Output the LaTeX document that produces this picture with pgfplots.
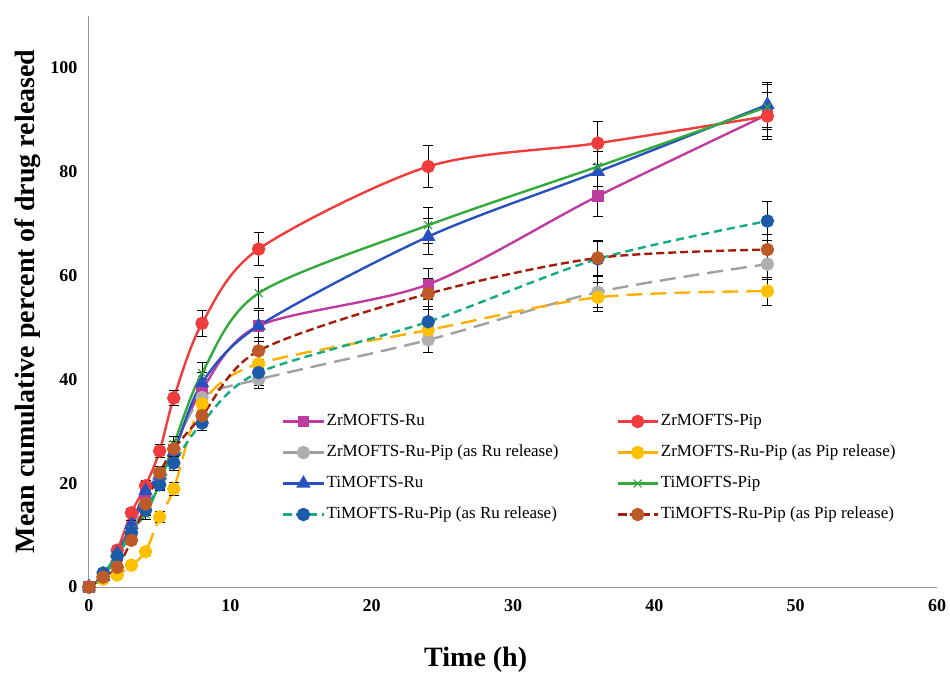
\documentclass[border=0pt]{standalone}
\usepackage{pgfplots}
\pgfplotsset{compat=1.18}
\usepackage{fontspec}
\setmainfont{Liberation Serif}
\definecolor{cZrRu}{RGB}{190,60,160}
\definecolor{cZrPip}{RGB}{240,60,60}
\definecolor{cGray}{RGB}{160,160,160}
\definecolor{cGrayM}{RGB}{175,175,175}
\definecolor{cYel}{RGB}{255,176,0}
\definecolor{cYelM}{RGB}{255,192,0}
\definecolor{cTiRu}{RGB}{40,80,190}
\definecolor{cTiPip}{RGB}{50,170,60}
\definecolor{cTeal}{RGB}{20,170,130}
\definecolor{cBlueM}{RGB}{30,90,170}
\definecolor{cDRed}{RGB}{160,30,10}
\definecolor{cBrownM}{RGB}{190,90,40}
\definecolor{cAxis}{RGB}{150,150,150}
\pgfplotstableread{
t v e
0 0 0
1 2 0.3
2 6.5 0.5
3 11.5 0.8
4 17.5 1
5 21.5 1.2
6 26.5 1.5
8 38 2
12 50.3 3
24 58.3 3
36 75.3 4
48 91 4.3
}\ZrRu
\pgfplotstableread{
t v e
0 0 0
1 2 0.3
2 7.1 0.5
3 14.3 0.8
4 19.5 1
5 26.2 1.2
6 36.4 1.5
8 50.8 2.5
12 65.1 3.2
24 81 4
36 85.5 4.2
48 90.7 4.5
}\ZrPip
\pgfplotstableread{
t v e
0 0 0
1 2 0.3
2 6 0.5
3 11 0.8
4 16 1
5 21 1.2
6 26.5 1.5
8 36.5 2
12 40 1.8
24 47.6 2.5
36 56.8 3
48 62.2 3
}\ZrRuPipRu
\pgfplotstableread{
t v e
0 0 0
1 1.5 0.3
2 2.3 0.4
3 4.2 0.5
4 6.8 0.7
5 13.5 1
6 18.9 1.2
8 35.3 2
12 43 2
24 49.5 2.5
36 55.8 2.8
48 57 2.7
}\ZrRuPipPip
\pgfplotstableread{
t v e
0 0 0
1 2 0.3
2 6.5 0.5
3 12 0.8
4 18.5 1
5 21.5 1.2
6 26 1.5
8 39.3 2
12 50.3 3
24 67.5 3.5
36 80 3.8
48 92.9 4.3
}\TiRu
\pgfplotstableread{
t v e
0 0 0
1 2 0.3
2 6 0.5
3 11 0.8
4 14 1
5 20 1.2
6 27.5 1.5
8 41.2 2
12 56.6 3
24 69.7 3.5
36 81 3.8
48 92.5 4.3
}\TiPip
\pgfplotstableread{
t v e
0 0 0
1 2.7 0.3
2 6 0.5
3 10.4 0.8
4 14.8 1
5 19.7 1.2
6 23.9 1.5
8 31.6 1.5
12 41.3 2.5
24 51.1 3
36 63.2 3.3
48 70.5 3.7
}\TiRuPipRu
\pgfplotstableread{
t v e
0 0 0
1 1.9 0.3
2 3.8 0.5
3 9 0.8
4 16 1
5 22 1.2
6 26.6 1.5
8 33 2
12 45.5 2.5
24 56.5 3
36 63.4 3.3
48 65 3
}\TiRuPipPip
\begin{document}
\begin{tikzpicture}
\pgfplotsset{
  eb/.style={error bars/.cd, y dir=both, y explicit,
    error bar style={black, line width=1pt, solid},
    error mark options={black, mark size=5pt, line width=1pt, rotate=90, solid}},
  ser/.style={line width=2.4pt, smooth, tension=0.5, mark size=5.5pt},
}
\begin{axis}[
  name=ax,
  scale only axis, width=848pt, height=571pt,
  xmin=0, xmax=60, ymin=0, ymax=110,
  xtick={0,10,...,60}, ytick={0,20,...,100},
  axis x line=bottom, axis y line=left,
  axis line style={-, draw=cAxis, line width=1pt},
  major tick length=0pt,
  /pgf/number format/assume math mode=true,
  tick label style={font=\fontsize{18}{21}\selectfont\bfseries},
  xticklabel style={yshift=-9pt},
  yticklabel style={xshift=-8pt},
  xlabel={Time (h)},
  xlabel style={font=\fontsize{28}{32}\selectfont\bfseries, at={(axis description cs:0.456,0)}, anchor=center, yshift=-73pt},
  ylabel={Mean cumulative percent of drug released},
  ylabel style={font=\fontsize{28}{32}\selectfont\bfseries, at={(axis description cs:0,0.5)}, anchor=center, yshift=61pt},
  legend columns=2,
  legend cell align=left,
  legend style={at={(axis cs:13.66,34.9)}, anchor=north west, draw=none, fill=none,
    font=\fontsize{17}{20}\selectfont, inner sep=0pt,
    nodes={text height=13pt, text depth=5pt, inner ysep=6.5pt, inner xsep=2pt},
    /tikz/every even column/.append style={column sep=56pt}},
  legend image code/.code={\draw[mark repeat=2,mark phase=2,#1] plot coordinates {(0pt,0pt) (20pt,0pt) (40pt,0pt)};},
]
\addplot[ser, color=cZrRu, mark=square*, mark size=4.5pt, mark options={solid, fill=cZrRu}, eb] table[x=t,y=v,y error=e] {\ZrRu};
\addlegendentry{ZrMOFTS-Ru}
\addplot[ser, color=cZrPip, mark=*, mark options={solid, fill=cZrPip}, eb] table[x=t,y=v,y error=e] {\ZrPip};
\addlegendentry{ZrMOFTS-Pip}
\addplot[ser, color=cGray, dash pattern=on 16pt off 8pt, mark=*, mark options={solid, draw=cGrayM, fill=cGrayM}, eb] table[x=t,y=v,y error=e] {\ZrRuPipRu};
\addlegendentry{ZrMOFTS-Ru-Pip (as Ru release)}
\addplot[ser, color=cYel, dash pattern=on 16pt off 8pt, mark=*, mark options={solid, draw=cYelM, fill=cYelM}, eb] table[x=t,y=v,y error=e] {\ZrRuPipPip};
\addlegendentry{ZrMOFTS-Ru-Pip (as Pip release)}
\addplot[ser, color=cTiRu, mark=triangle*, mark size=6pt, mark options={solid, fill=cTiRu}, eb] table[x=t,y=v,y error=e] {\TiRu};
\addlegendentry{TiMOFTS-Ru}
\addplot[ser, color=cTiPip, mark=x, mark size=5.5pt, mark options={solid, line width=1.2pt}, eb] table[x=t,y=v,y error=e] {\TiPip};
\addlegendentry{TiMOFTS-Pip}
\addplot[ser, color=cTeal, dash pattern=on 8pt off 5pt, mark=*, mark options={solid, draw=cBlueM, fill=cBlueM}, eb] table[x=t,y=v,y error=e] {\TiRuPipRu};
\addlegendentry{TiMOFTS-Ru-Pip (as Ru release)}
\addplot[ser, color=cDRed, dash pattern=on 8pt off 4pt, mark=*, mark options={solid, draw=cBrownM, fill=cBrownM}, eb] table[x=t,y=v,y error=e] {\TiRuPipPip};
\addlegendentry{TiMOFTS-Ru-Pip (as Pip release)}
\end{axis}
\path ([shift={(-89pt,-86pt)}]ax.south west) rectangle ([shift={(13pt,16pt)}]ax.north east);
\end{tikzpicture}
\end{document}
